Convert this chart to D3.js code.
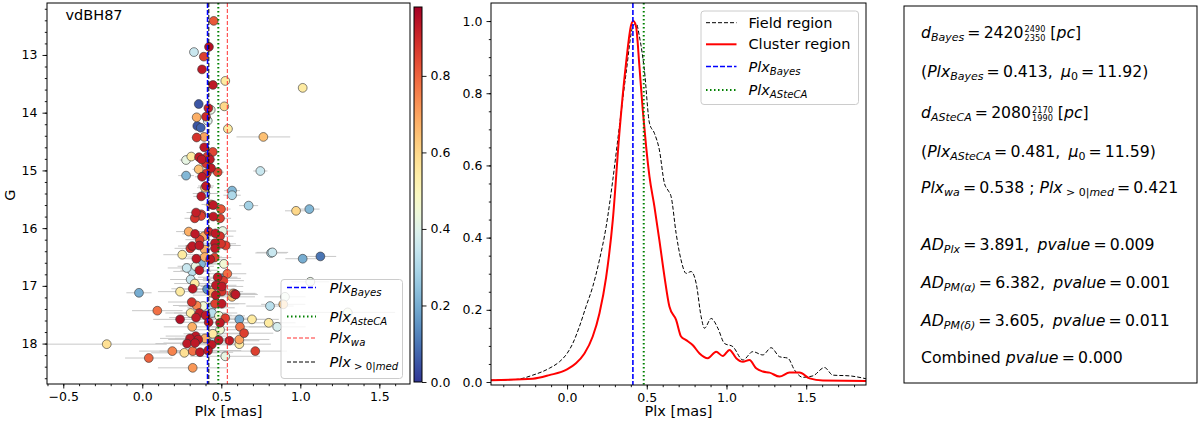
<!DOCTYPE html>
<html>
<head>
<meta charset="utf-8">
<script src="https://cdn.jsdelivr.net/npm/d3@7"></script>
<style>
  body { margin: 0; background: #fff; }
  svg { font-family: "DejaVu Sans", sans-serif; }
  svg text { white-space: pre; fill: #000; }
  .axis path, .axis line { stroke: #000; }
</style>
</head>
<body>
<svg id="fig" width="1200" height="427"></svg>
<script>
// Stars in the cluster region: [Plx (mas), G (mag), membership prob, Plx error]
var stars = [
  [0.452,12.41,0.82,0.015],[0.327,12.95,0.35,0.015],[0.422,12.86,0.95,0.015],[0.389,13.03,0.86,0.015],
  [0.378,13.25,0.93,0.02],[0.525,13.45,0.55,0.02],[0.447,13.52,0.93,0.02],[1.015,13.57,0.55,0.02],
  [0.357,13.85,0.05,0.02],[0.519,13.89,0.60,0.02],[0.433,13.95,0.42,0.02],[0.418,13.92,0.92,0.02],
  [0.344,14.08,0.68,0.025],[0.403,14.07,0.90,0.025],[0.414,14.14,0.40,0.03],[0.348,14.23,0.05,0.025],
  [0.370,14.26,0.07,0.025],[0.542,14.28,0.55,0.03],[0.766,14.42,0.65,0.17],[0.344,14.43,0.88,0.03],
  [0.392,14.42,0.70,0.03],[0.392,14.60,0.93,0.03],[0.446,14.68,0.85,0.035],[0.310,14.76,0.55,0.035],
  [0.277,14.82,0.42,0.04],[0.359,14.77,0.93,0.035],[0.376,14.81,0.93,0.035],[0.411,14.76,0.88,0.04],
  [0.428,14.81,0.93,0.035],[0.403,14.88,0.88,0.04],[0.435,14.96,0.93,0.04],[0.357,14.98,0.65,0.04],
  [0.477,15.03,0.85,0.04],[0.408,15.05,0.88,0.045],[0.277,15.09,0.22,0.05],[0.378,15.11,0.93,0.045],
  [0.747,15.01,0.35,0.045],[0.403,15.27,0.93,0.05],[0.397,15.30,0.65,0.05],[0.568,15.35,0.22,0.05],
  [0.568,15.43,0.30,0.055],[0.373,15.45,0.93,0.05],[0.399,15.40,0.35,0.08],[0.435,15.59,0.72,0.06],
  [0.449,15.60,0.93,0.055],[0.498,15.67,0.82,0.06],[0.673,15.61,0.28,0.06],[0.973,15.70,0.60,0.07],
  [1.057,15.67,0.22,0.065],[0.340,15.73,0.92,0.06],[0.373,15.76,0.86,0.065],[0.332,15.83,0.88,0.065],
  [0.372,15.79,0.86,0.07],[0.449,15.80,0.93,0.065],[0.492,15.83,0.86,0.07],[0.294,16.06,0.68,0.08],
  [0.334,16.10,0.93,0.08],[0.391,16.14,0.68,0.085],[0.420,16.06,0.88,0.08],[0.462,16.09,0.93,0.08],
  [0.509,16.05,0.42,0.085],[0.492,16.14,0.88,0.085],[0.363,16.20,0.86,0.09],[0.316,16.31,0.93,0.09],
  [0.304,16.35,0.88,0.10],[0.361,16.30,0.93,0.09],[0.395,16.37,0.68,0.10],[0.460,16.26,0.93,0.09],
  [0.498,16.27,0.88,0.095],[0.460,16.35,0.93,0.10],[0.528,16.30,0.86,0.095],[0.253,16.46,0.55,0.12],
  [0.342,16.53,0.93,0.10],[0.395,16.50,0.68,0.11],[0.430,16.54,0.93,0.10],[0.458,16.51,0.86,0.105],
  [0.815,16.43,0.32,0.10],[0.823,16.42,0.35,0.10],[1.015,16.53,0.20,0.11],[1.127,16.49,0.10,0.10],
  [0.517,16.62,0.45,0.11],[0.281,16.69,0.35,0.12],[0.372,16.62,0.22,0.11],[0.316,16.75,0.32,0.12],
  [0.338,16.66,0.42,0.115],[0.361,16.73,0.93,0.12],[0.538,16.79,0.78,0.12],[0.477,16.85,0.93,0.125],
  [0.504,16.87,0.20,0.12],[0.513,16.91,0.86,0.13],[0.306,16.89,0.35,0.13],[0.332,16.96,0.55,0.13],
  [0.319,17.05,0.93,0.135],[0.466,16.99,0.93,0.13],[0.504,17.01,0.93,0.135],[0.410,17.06,0.15,0.14],
  [0.456,17.06,0.45,0.135],[0.239,17.10,0.55,0.14],[-0.021,17.12,0.20,0.08],[1.063,16.93,0.42,0.12],
  [0.585,17.14,0.86,0.14],[0.439,17.12,0.68,0.14],[0.503,17.10,0.88,0.135],[0.576,17.13,0.68,0.14],
  [0.591,17.15,0.93,0.14],[0.465,17.16,0.93,0.145],[0.568,17.19,0.65,0.145],[0.903,17.19,0.42,0.13],
  [0.313,17.28,0.88,0.15],[0.344,17.34,0.75,0.15],[0.386,17.35,0.45,0.155],[0.435,17.38,0.30,0.15],
  [0.503,17.31,0.93,0.15],[0.460,17.31,0.86,0.15],[0.808,17.35,0.32,0.15],[0.892,17.32,0.65,0.14],
  [0.095,17.43,0.78,0.16],[0.306,17.47,0.55,0.16],[0.361,17.47,0.93,0.16],[0.401,17.51,0.93,0.165],
  [0.441,17.47,0.32,0.16],[0.485,17.52,0.45,0.165],[0.340,17.55,0.93,0.17],[0.525,17.56,0.86,0.17],
  [0.239,17.58,0.95,0.17],[0.420,17.63,0.93,0.17],[0.492,17.64,0.93,0.175],[0.614,17.58,0.20,0.17],
  [0.694,17.58,0.55,0.17],[0.800,17.64,0.55,0.17],[0.854,17.71,0.38,0.18],[0.316,17.71,0.68,0.18],
  [0.446,17.83,0.55,0.185],[0.492,17.76,0.45,0.18],[0.618,17.71,0.78,0.18],[0.644,17.82,0.86,0.185],
  [0.338,17.87,0.93,0.19],[0.302,17.91,0.93,0.19],[0.354,17.93,0.93,0.19],[0.397,17.91,0.68,0.19],
  [0.458,17.95,0.32,0.19],[0.484,17.94,0.93,0.195],[0.551,17.95,0.93,0.19],[0.614,17.93,0.70,0.19],
  [0.283,18.00,0.93,0.20],[0.334,17.99,0.93,0.20],[0.439,18.02,0.93,0.20],[0.614,18.01,0.55,0.20],
  [-0.225,18.01,0.58,0.38],[0.190,18.13,0.75,0.21],[0.266,18.16,0.58,0.21],[0.319,18.13,0.78,0.21],
  [0.365,18.15,0.93,0.21],[0.416,18.12,0.93,0.21],[0.715,18.13,0.86,0.20],[0.041,18.25,0.80,0.15],
  [0.525,18.22,0.42,0.22],[0.319,18.42,0.72,0.22],[1.300,17.46,0.45,0.30]
];

// Reference parallaxes
var plxBayes = 0.413, plxAsteca = 0.481, plxWa = 0.538, plxMed = 0.421;

// Normalised KDEs (middle panel)
var fieldX = [-0.479,-0.32,-0.215,-0.111,-0.048,0,0.036,0.077,0.119,0.161,0.203,0.245,0.287,0.328,0.370,
  0.412,0.433,0.454,0.485,0.517,0.548,0.579,0.611,0.632,0.653,0.684,0.715,0.747,0.778,0.810,0.841,0.862,
  0.904,0.946,0.987,1.040,1.103,1.165,1.228,1.280,1.333,1.385,1.427,1.479,1.542,1.615,1.667,1.772,1.875];
var fieldY = [0.005,0.007,0.019,0.038,0.056,0.079,0.107,0.153,0.209,0.264,0.338,0.43,0.56,0.707,0.855,
  0.984,0.994,0.957,0.864,0.717,0.689,0.643,0.550,0.532,0.513,0.412,0.338,0.301,0.306,0.273,0.181,0.149,
  0.176,0.149,0.107,0.098,0.061,0.084,0.075,0.095,0.070,0.066,0.033,0.013,0.017,0.040,0.019,0.017,0.009];
var clustX = [-0.479,-0.215,-0.111,0,0.056,0.109,0.161,0.203,0.245,0.287,0.328,0.370,0.402,0.416,0.433,
  0.454,0.475,0.496,0.517,0.548,0.579,0.611,0.642,0.684,0.715,0.747,0.789,0.831,0.883,0.935,0.977,1.019,
  1.061,1.103,1.144,1.186,1.228,1.270,1.333,1.395,1.458,1.521,1.605,1.875];
var clustY = [0.005,0.009,0.019,0.035,0.052,0.079,0.126,0.19,0.29,0.449,0.689,0.883,0.989,1.0,0.984,
  0.874,0.753,0.652,0.569,0.486,0.393,0.292,0.209,0.172,0.126,0.116,0.102,0.079,0.066,0.084,0.072,0.089,
  0.066,0.056,0.061,0.038,0.029,0.026,0.015,0.026,0.026,0.010,0.004,0.003];

var cbTicks = [0, 0.2, 0.4, 0.6, 0.8];
var cbMax = 0.98;

var svg = d3.select('#fig');
var EQ = '\u2009=\u2009';
var SEP = ', \u2009';

// math-ish text: parts are [text, flags, text2]; flags: i italic, s subscript, st stacked sup/sub
function mathText(g, x, y, parts, size) {
  var cx = x;
  parts.forEach(function (p) {
    var fl = p[1] || '';
    if (fl === 'st') {
      var a = g.append('text').attr('x', cx + 1).attr('y', y - size * 0.34).attr('font-size', size * 0.52).text(p[0]);
      var b = g.append('text').attr('x', cx + 1).attr('y', y + size * 0.22).attr('font-size', size * 0.52).text(p[2]);
      cx += 1 + Math.max(a.node().getComputedTextLength(), b.node().getComputedTextLength());
      return;
    }
    var sub = fl.indexOf('s') >= 0;
    var t = g.append('text')
      .attr('x', cx)
      .attr('y', y + (sub ? size * 0.22 : 0))
      .attr('font-size', sub ? size * 0.7 : size)
      .attr('font-style', fl.indexOf('i') >= 0 ? 'italic' : null)
      .text(p[0]);
    cx += t.node().getComputedTextLength();
  });
  return cx;
}

function styleAxis(g, fs) {
  g.attr('class', 'axis');
  g.select('.domain').remove();
  g.selectAll('text').attr('font-size', fs).attr('font-family', '"DejaVu Sans", sans-serif');
  g.selectAll('line').attr('stroke', '#000').attr('stroke-width', 0.9);
}

// ---------- left panel ----------
var L = {x0: 47, x1: 410, y0: 3, y1: 384};
var xL = d3.scaleLinear().domain([-0.603, 1.694]).range([L.x0, L.x1]);
var yL = d3.scaleLinear().domain([12.10, 18.70]).range([L.y0, L.y1]);
var color = function (p) { return d3.interpolateRdYlBu(1 - Math.min(p / cbMax, 1)); };

svg.append('clipPath').attr('id', 'clipL').append('rect')
  .attr('x', L.x0).attr('y', L.y0).attr('width', L.x1 - L.x0).attr('height', L.y1 - L.y0);

var gL = svg.append('g').attr('clip-path', 'url(#clipL)');

gL.selectAll('line.err').data(stars).enter().append('line')
  .attr('class', 'err')
  .attr('x1', function (d) { return xL(d[0] - d[3]); })
  .attr('x2', function (d) { return xL(d[0] + d[3]); })
  .attr('y1', function (d) { return yL(d[1]); })
  .attr('y2', function (d) { return yL(d[1]); })
  .attr('stroke', '#c8c8c8').attr('stroke-width', 1);

var sorted = stars.slice().sort(function (a, b) { return a[2] - b[2]; });
gL.selectAll('circle').data(sorted).enter().append('circle')
  .attr('cx', function (d) { return xL(d[0]); })
  .attr('cy', function (d) { return yL(d[1]); })
  .attr('r', 4.4)
  .attr('fill', function (d) { return color(d[2]); })
  .attr('stroke', '#333').attr('stroke-width', 0.6);

function vline(g, x, v, y0, y1, col, dash, w) {
  g.append('line').attr('x1', x(v)).attr('x2', x(v)).attr('y1', y0).attr('y2', y1)
    .attr('stroke', col).attr('stroke-dasharray', dash).attr('stroke-width', w);
}
vline(gL, xL, plxBayes, L.y0, L.y1, '#0000ff', '5,2', 1.6);
vline(gL, xL, plxAsteca, L.y0, L.y1, '#008000', '1.5,2.5', 2);
vline(gL, xL, plxWa, L.y0, L.y1, '#ff3030', '4,2', 1);
vline(gL, xL, plxMed, L.y0, L.y1, '#000', '4,2', 1);

svg.append('g').attr('transform', 'translate(0,' + L.y1 + ')')
  .call(d3.axisBottom(xL).tickValues([-0.5, 0, 0.5, 1, 1.5]).tickFormat(d3.format('.1f')).tickSize(4.5).tickPadding(4))
  .call(styleAxis, 12.5);
svg.append('g').attr('transform', 'translate(0,' + L.y1 + ')')
  .call(d3.axisBottom(xL).tickValues(d3.range(-0.6, 1.7, 0.1)).tickFormat('').tickSize(2.2))
  .call(styleAxis, 12.5);
svg.append('g').attr('transform', 'translate(' + L.x0 + ',0)')
  .call(d3.axisLeft(yL).tickValues([13, 14, 15, 16, 17, 18]).tickFormat(d3.format('d')).tickSize(4.5).tickPadding(5))
  .call(styleAxis, 12.5);
svg.append('g').attr('transform', 'translate(' + L.x0 + ',0)')
  .call(d3.axisLeft(yL).tickValues(d3.range(12.2, 18.7, 0.2)).tickFormat('').tickSize(2.2))
  .call(styleAxis, 12.5);

svg.append('rect').attr('x', L.x0).attr('y', L.y0).attr('width', L.x1 - L.x0).attr('height', L.y1 - L.y0)
  .attr('fill', 'none').attr('stroke', '#000').attr('stroke-width', 1);

svg.append('text').attr('x', 65.5).attr('y', 19.5).attr('font-size', 14.5).text('vdBH87');
svg.append('text').attr('x', (L.x0 + L.x1) / 2).attr('y', 416).attr('text-anchor', 'middle')
  .attr('font-size', 14.5).text('Plx [mas]');
svg.append('text').attr('transform', 'translate(15,195) rotate(-90)').attr('text-anchor', 'middle')
  .attr('font-size', 14.5).text('G');

// left legend
var lg = svg.append('g');
lg.append('rect').attr('x', 281).attr('y', 279.5).attr('width', 121.5).attr('height', 99).attr('rx', 3)
  .attr('fill', '#fff').attr('fill-opacity', 0.8).attr('stroke', '#cccccc').attr('stroke-width', 1);
var legL = [
  {y: 287.5, col: '#0000ff', dash: '5,2', w: 1.6, parts: [['Plx', 'i'], ['Bayes', 'is']]},
  {y: 316.5, col: '#008000', dash: '1.5,2.5', w: 2, parts: [['Plx', 'i'], ['AsteCA', 'is']]},
  {y: 338, col: '#ff3030', dash: '4,2', w: 1, parts: [['Plx', 'i'], ['wa', 'is']]},
  {y: 362, col: '#000', dash: '4,2', w: 1, parts: [['Plx', 'i'], [' > 0|', 's'], ['med', 'is']]}
];
legL.forEach(function (e) {
  lg.append('line').attr('x1', 287).attr('x2', 316).attr('y1', e.y).attr('y2', e.y)
    .attr('stroke', e.col).attr('stroke-dasharray', e.dash).attr('stroke-width', e.w);
  mathText(lg, 329.5, e.y + 5, e.parts, 14.5);
});

// colorbar
var cb = {x0: 414, x1: 422, y0: 7, y1: 382};
var yC = d3.scaleLinear().domain([0, cbMax]).range([cb.y1, cb.y0]);
var grad = svg.append('defs').append('linearGradient').attr('id', 'cbgrad')
  .attr('x1', 0).attr('y1', 1).attr('x2', 0).attr('y2', 0);
d3.range(0, 1.0001, 0.05).forEach(function (t) {
  grad.append('stop').attr('offset', t).attr('stop-color', d3.interpolateRdYlBu(1 - t));
});
svg.append('rect').attr('x', cb.x0).attr('y', cb.y0).attr('width', cb.x1 - cb.x0).attr('height', cb.y1 - cb.y0)
  .attr('fill', 'url(#cbgrad)').attr('stroke', '#000').attr('stroke-width', 1);
svg.append('g').attr('transform', 'translate(' + cb.x1 + ',0)')
  .call(d3.axisRight(yC).tickValues(cbTicks).tickFormat(d3.format('.1f')).tickSize(4.5).tickPadding(4))
  .call(styleAxis, 12.5);

// ---------- middle panel ----------
var M = {x0: 491, x1: 866, y0: 3, y1: 385};
var xM = d3.scaleLinear().domain([-0.477, 1.875]).range([M.x0, M.x1]);
var yM = d3.scaleLinear().domain([-0.0083, 1.05]).range([M.y1, M.y0]);

svg.append('clipPath').attr('id', 'clipM').append('rect')
  .attr('x', M.x0).attr('y', M.y0).attr('width', M.x1 - M.x0).attr('height', M.y1 - M.y0);
var gM = svg.append('g').attr('clip-path', 'url(#clipM)');

var line = d3.line().curve(d3.curveMonotoneX)
  .x(function (d) { return xM(d[0]); })
  .y(function (d) { return yM(d[1]); });

gM.append('path').datum(d3.zip(fieldX, fieldY)).attr('d', line)
  .attr('fill', 'none').attr('stroke', '#000').attr('stroke-width', 1).attr('stroke-dasharray', '4,2');
gM.append('path').datum(d3.zip(clustX, clustY)).attr('d', line)
  .attr('fill', 'none').attr('stroke', '#ff0000').attr('stroke-width', 2);
vline(gM, xM, plxBayes, M.y0, M.y1, '#0000ff', '5,2', 1.6);
vline(gM, xM, plxAsteca, M.y0, M.y1, '#008000', '1.5,2.5', 2);

svg.append('g').attr('transform', 'translate(0,' + M.y1 + ')')
  .call(d3.axisBottom(xM).tickValues([0, 0.5, 1, 1.5]).tickFormat(d3.format('.1f')).tickSize(4.5).tickPadding(4))
  .call(styleAxis, 12.5);
svg.append('g').attr('transform', 'translate(0,' + M.y1 + ')')
  .call(d3.axisBottom(xM).tickValues(d3.range(-0.4, 1.85, 0.1)).tickFormat('').tickSize(2.2))
  .call(styleAxis, 12.5);
svg.append('g').attr('transform', 'translate(' + M.x0 + ',0)')
  .call(d3.axisLeft(yM).tickValues([0, 0.2, 0.4, 0.6, 0.8, 1.0]).tickFormat(d3.format('.1f')).tickSize(4.5).tickPadding(4))
  .call(styleAxis, 12.5);
svg.append('g').attr('transform', 'translate(' + M.x0 + ',0)')
  .call(d3.axisLeft(yM).tickValues(d3.range(0.05, 1.05, 0.05)).tickFormat('').tickSize(2.2))
  .call(styleAxis, 12.5);

svg.append('rect').attr('x', M.x0).attr('y', M.y0).attr('width', M.x1 - M.x0).attr('height', M.y1 - M.y0)
  .attr('fill', 'none').attr('stroke', '#000').attr('stroke-width', 1);
svg.append('text').attr('x', (M.x0 + M.x1) / 2).attr('y', 416).attr('text-anchor', 'middle')
  .attr('font-size', 14.5).text('Plx [mas]');

var mg = svg.append('g');
mg.append('rect').attr('x', 701).attr('y', 11).attr('width', 157.5).attr('height', 93.5).attr('rx', 3)
  .attr('fill', '#fff').attr('fill-opacity', 0.8).attr('stroke', '#cccccc').attr('stroke-width', 1);
var legM = [
  {y: 22.7, col: '#000', dash: '4,2', w: 1, parts: [['Field region']]},
  {y: 44.3, col: '#ff0000', dash: null, w: 2, parts: [['Cluster region']]},
  {y: 66.5, col: '#0000ff', dash: '5,2', w: 1.6, parts: [['Plx', 'i'], ['Bayes', 'is']]},
  {y: 90, col: '#008000', dash: '1.5,2.5', w: 2, parts: [['Plx', 'i'], ['ASteCA', 'is']]}
];
legM.forEach(function (e) {
  mg.append('line').attr('x1', 706).attr('x2', 736.5).attr('y1', e.y).attr('y2', e.y)
    .attr('stroke', e.col).attr('stroke-dasharray', e.dash).attr('stroke-width', e.w);
  mathText(mg, 748.5, e.y + 5, e.parts, 14.5);
});

// ---------- right text box ----------
svg.append('rect').attr('x', 904).attr('y', 6).attr('width', 293).attr('height', 377)
  .attr('fill', '#fff').attr('stroke', '#000').attr('stroke-width', 1);
var tg = svg.append('g');
var boxLines = [
  {y: 37.5, parts: [['d', 'i'], ['Bayes', 'is'], [EQ + '2420'], ['2490', 'st', '2350'], [' ['], ['pc', 'i'], [']']]},
  {y: 77, parts: [['('], ['Plx', 'i'], ['Bayes', 'is'], [EQ + '0.413' + SEP], ['\u03bc', 'i'], ['0', 's'], [EQ + '11.92)']]},
  {y: 118, parts: [['d', 'i'], ['ASteCA', 'is'], [EQ + '2080'], ['2170', 'st', '1990'], [' ['], ['pc', 'i'], [']']]},
  {y: 157, parts: [['('], ['Plx', 'i'], ['ASteCA', 'is'], [EQ + '0.481' + SEP], ['\u03bc', 'i'], ['0', 's'], [EQ + '11.59)']]},
  {y: 193, parts: [['Plx', 'i'], ['wa', 'is'], [EQ + '0.538 ; '], ['Plx', 'i'], [' > 0|', 's'], ['med', 'is'], [EQ + '0.421']]},
  {y: 250, parts: [['AD', 'i'], ['Plx', 'is'], [EQ + '3.891' + SEP], ['pvalue', 'i'], [EQ + '0.009']]},
  {y: 287.5, parts: [['AD', 'i'], ['PM(\u03b1)', 'is'], [EQ + '6.382' + SEP], ['pvalue', 'i'], [EQ + '0.001']]},
  {y: 325.5, parts: [['AD', 'i'], ['PM(\u03b4)', 'is'], [EQ + '3.605' + SEP], ['pvalue', 'i'], [EQ + '0.011']]},
  {y: 363, parts: [['Combined '], ['pvalue', 'i'], [EQ + '0.000']]}
];
boxLines.forEach(function (l) { mathText(tg, 921, l.y, l.parts, 15.7); });
</script>
</body>
</html>
